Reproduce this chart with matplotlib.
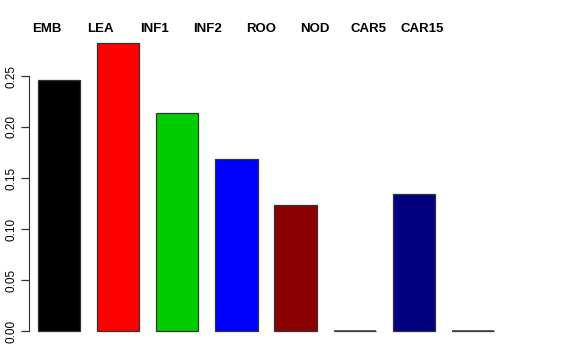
import matplotlib
matplotlib.use("Agg")
import matplotlib.pyplot as plt
import numpy as np

# tissue labels and their values
tissues = ["EMB", "LEA", "INF1", "INF2", "ROO", "NOD", "CAR5", "CAR15"]
values = [0.246, 0.282, 0.214, 0.169, 0.124, 0.0, 0.134, 0.0]
colors = ["#000000", "#FF0000", "#00CD00", "#0000FF", "#8B0000", "#FFFFFF", "#000080", "#FFFFFF"]
yticks = [0.00, 0.05, 0.10, 0.15, 0.20, 0.25]

plt.rcParams['font.family'] = ['Liberation Sans', 'DejaVu Sans']

W, H = 576, 360
fig = plt.figure(figsize=(W / 100, H / 100), dpi=100)

# axes placed in pixel terms (R-like plot region)
left_px, right_px, top_px, bottom_px = 29, 560, 40, 331
ax = fig.add_axes([left_px / W, 1 - bottom_px / H,
                   (right_px - left_px) / W, (bottom_px - top_px) / H])

# bars: width 1, space 0.4 like barplot(space=0.4)
lefts = 0.4 + 1.4 * np.arange(len(values))
bars = ax.bar(lefts, values, width=1.0, align='edge', color=colors,
              edgecolor='#333333', linewidth=0.9)
for b in bars:
    b.set_clip_on(False)
# zero-height bars still show their outline as a flat line
for l, v in zip(lefts, values):
    if v == 0:
        ax.hlines(0, l, l + 1.0, color='#444444', linewidth=1.2, clip_on=False)

pxu = 42.2  # pixels per x unit
ax.set_xlim(0.4 - (38 - left_px) / pxu, 11.2 + (right_px - 494) / pxu)
ax.set_ylim(0, (bottom_px - top_px) / 1020)

for s in ['top', 'right', 'bottom']:
    ax.spines[s].set_visible(False)
ax.spines['left'].set_bounds(0, 0.25)
ax.spines['left'].set_color('#333333')
ax.set_xticks([])
ax.set_yticks(yticks)
ax.set_yticklabels(["%.2f" % t for t in yticks], rotation=90, va='center', fontsize=8.5)
ax.tick_params(axis='y', length=6, width=0.9, color='#333333', pad=2)

# labels above the bars
yl = (bottom_px - 29) / 1020
for i, t in enumerate(tissues):
    ax.text(0.4 + 9 / pxu + 1.27 * i, yl, t, ha='center', va='center',
            fontsize=9.5, fontweight='bold', clip_on=False)

fig.savefig("out.png", dpi=100)
